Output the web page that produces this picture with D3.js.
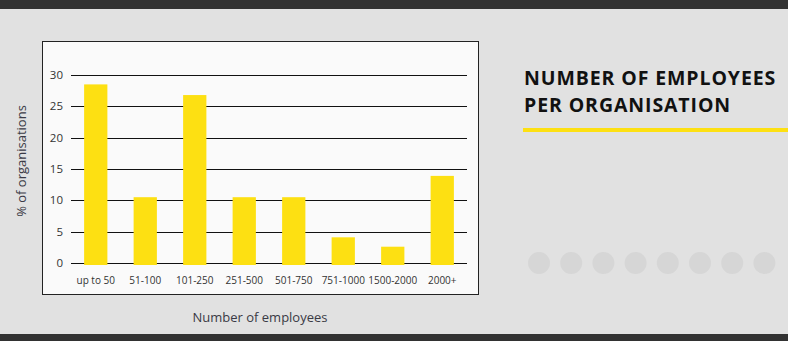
<!DOCTYPE html>
<html><head><meta charset="utf-8">
<script src="https://cdn.jsdelivr.net/npm/d3@7"></script>
<style>
html,body{margin:0;padding:0;background:#e1e1e1;}
svg{display:block;font-family:"Open Sans",sans-serif;}
</style></head>
<body><svg id="c" width="788" height="341"></svg>
<script>
const categories = ["up to 50","51-100","101-250","251-500","501-750","751-1000","1500-2000","2000+"];
const values = [28.5, 10.5, 26.8, 10.5, 10.5, 4.1, 2.6, 13.9];
const yTicks = [0,5,10,15,20,25,30];
const titleLines = ["NUMBER OF EMPLOYEES","PER ORGANISATION"];
const dotCount = 8;

const svg = d3.select("#c");
svg.append("rect").attr("x",0).attr("y",0).attr("width",788).attr("height",341).attr("fill","#e1e1e1");
svg.append("rect").attr("x",0).attr("y",0).attr("width",788).attr("height",9).attr("fill","#323232");
svg.append("rect").attr("x",0).attr("y",334).attr("width",788).attr("height",7).attr("fill","#323232");

// chart box
svg.append("rect").attr("x",42.5).attr("y",41.5).attr("width",436).attr("height",253)
  .attr("fill","#fafafa").attr("stroke","#222").attr("stroke-width",1);

const x = d3.scaleBand().domain(categories).range([71,467]).paddingInner(0.53).paddingOuter(0.265);
const y = d3.scaleLinear().domain([0,30]).range([263,75]);

const g = svg.append("g");
g.selectAll("line.grid").data(yTicks).join("line")
  .attr("x1",71).attr("x2",467)
  .attr("y1",d=>Math.round(y(d))+0.5).attr("y2",d=>Math.round(y(d))+0.5)
  .attr("stroke","#111").attr("stroke-width",1);
g.selectAll("text.yt").data(yTicks).join("text")
  .attr("x",63).attr("y",d=>y(d)).attr("dy","0.35em")
  .attr("text-anchor","end").attr("font-size",11.5).attr("fill","#333")
  .text(d=>d);
g.selectAll("rect.bar").data(values).join("rect")
  .attr("x",(d,i)=>x(categories[i])).attr("width",x.bandwidth())
  .attr("y",d=>y(d)).attr("height",d=>y(0)-y(d)+2)
  .attr("fill","#fde012");
g.selectAll("text.xt").data(categories).join("text")
  .attr("x",d=>x(d)+x.bandwidth()/2).attr("y",280).attr("dy","0.35em")
  .attr("text-anchor","middle").attr("font-size",10).attr("fill","#333")
  .text(d=>d);
svg.append("text").attr("x",260).attr("y",317).attr("dy","0.35em")
  .attr("text-anchor","middle").attr("font-size",13).attr("fill","#3a3a45")
  .text("Number of employees");
svg.append("text").attr("transform","translate(21,161) rotate(-90)").attr("dy","0.35em")
  .attr("text-anchor","middle").attr("font-size",13).attr("fill","#3a3a45")
  .text("% of organisations");

svg.selectAll("text.title").data(titleLines).join("text")
  .attr("x",524).attr("y",(d,i)=>85+i*27)
  .attr("font-size",19.5).attr("font-weight","bold").attr("fill","#111")
  .attr("letter-spacing",0.9)
  .text(d=>d);
svg.append("rect").attr("x",523).attr("y",128).attr("width",265).attr("height",4).attr("fill","#fde012");

svg.selectAll("circle.dot").data(d3.range(dotCount)).join("circle")
  .attr("cx",d=>539+d*32.2).attr("cy",263).attr("r",11).attr("fill","#d6d6d6");
</script></body></html>
